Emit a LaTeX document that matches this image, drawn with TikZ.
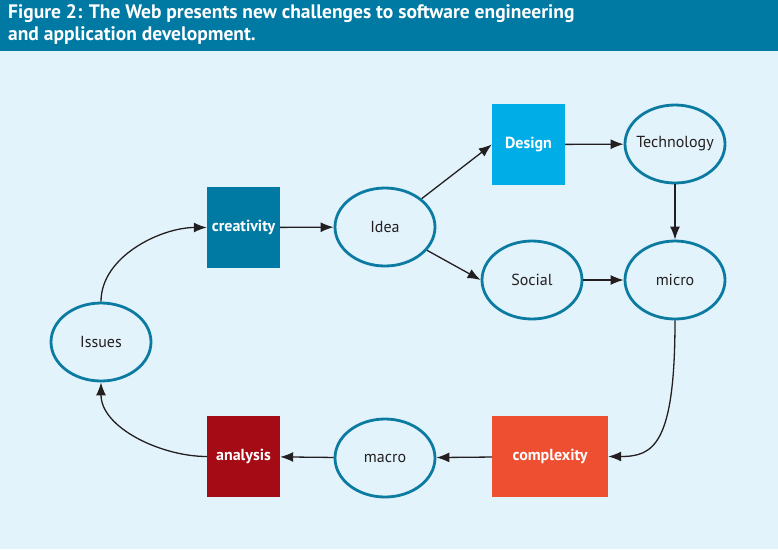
\documentclass[tikz,border=0pt]{standalone}
\usepackage{fontspec}
\setmainfont{PT Sans}
\usetikzlibrary{shapes.geometric,arrows.meta}

\definecolor{headblue}{HTML}{0079A3}
\definecolor{paleblue}{HTML}{E3F3FC}
\definecolor{ringblue}{HTML}{0B7BA2}
\definecolor{skyblue}{HTML}{00ADE7}
\definecolor{darkred}{HTML}{A50B15}
\definecolor{orangered}{HTML}{EF4F31}
\definecolor{inkblack}{HTML}{231F20}

\tikzset{
  idea/.style={ellipse,draw=ringblue,line width=2.8pt,minimum width=100pt,minimum height=78pt,
    inner xsep=-12pt,inner ysep=0pt,font=\fontsize{16}{18}\selectfont,text=inkblack},
  block/.style={rectangle,minimum width=73pt,minimum height=81pt,inner sep=0pt,
    text=white,font=\bfseries\fontsize{16}{18}\selectfont},
  flow/.style={draw=inkblack,line width=1.3pt,-{Latex[length=13pt,width=10pt]}}
}

\begin{document}
\begin{tikzpicture}[x=1pt,y=-1pt]
  \useasboundingbox (0,0) rectangle (778,549);
  \fill[paleblue] (0,0) rectangle (778,549);
  \fill[headblue] (0,0) rectangle (778,51);
  \node[anchor=north west,align=left,text=white,inner sep=0pt,
        font=\bfseries\fontsize{19.5}{22}\selectfont] (title) at (8,4)
    {Figure 2: The Web presents new challenges to software engineering\\and application development.};

  \begin{scope}[every node/.style={idea}]
    \node (idea)   at (385,227) {Idea};
    \node (tech)   at (675,144) {Technology};
    \node (social) at (532,280) {Social};
    \node (micro)  at (675,280) {micro};
    \node (issues) at (101,342) {Issues};
    \node (macro)  at (385,458) {macro};
  \end{scope}

  \begin{scope}[every node/.style={block}]
    \node[fill=headblue]  (creativity) at (243.5,227.5) {creativity};
    \node[fill=skyblue]   (design)     at (528.5,144.5) {Design};
    \node[fill=darkred]   (analysis)   at (243.5,456.5) {analysis};
    \node[fill=orangered,minimum width=116pt] (complexity) at (550,456.5) {complexity};
  \end{scope}

  \begin{scope}[every edge/.style={flow}]
    \path (issues.north)   edge[out=90,in=180,looseness=0.9] (creativity.west);
    \path (creativity)     edge (idea);
    \path (idea)           edge (design.west);
    \path (idea)           edge (social.west);
    \path (design)         edge (tech);
    \path (social)         edge (micro);
    \path (tech.south)     edge (micro.north);
    \path (micro.south)    edge[to path={.. controls ([yshift=-125pt]\tikztostart) and ([xshift=45pt]\tikztotarget) .. (\tikztotarget)}] (complexity.east);
    \path (complexity)     edge (macro);
    \path (macro)          edge (analysis);
    \path (analysis.west)  edge[out=180,in=-90,looseness=0.9] (issues.south);
  \end{scope}
\end{tikzpicture}
\end{document}
